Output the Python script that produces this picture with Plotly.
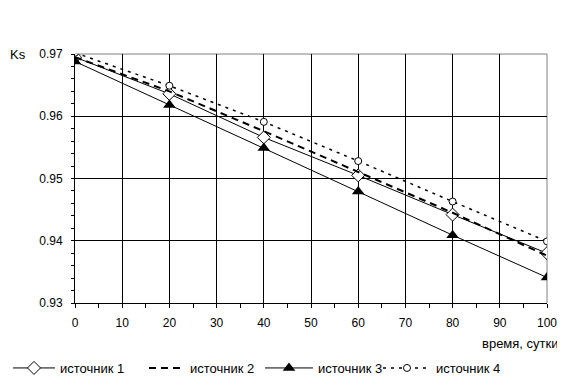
import plotly.graph_objects as go

days = [0, 20, 40, 60, 80, 100]
src1 = [0.9695, 0.9636, 0.9566, 0.9505, 0.9442, 0.9380]
src2 = [0.9695, 0.9640, 0.9576, 0.9510, 0.9445, 0.9376]
src3 = [0.9688, 0.9618, 0.9549, 0.9479, 0.9409, 0.9341]
src4 = [0.9702, 0.9649, 0.9591, 0.9528, 0.9463, 0.9399]
names = ["источник 1", "источник 2", "источник 3", "источник 4"]

FONT = "Liberation Sans, Arial, sans-serif"
W, H = 557, 377  # page adds an 8px body margin

fig = go.Figure()
fig.add_trace(go.Scatter(x=days, y=src1, name=names[0], mode="lines+markers",
                         legend="legend",
                         line=dict(color="black", width=1),
                         marker=dict(symbol="diamond", size=10, color="white",
                                     line=dict(color="black", width=1))))
fig.add_trace(go.Scatter(x=days, y=src2, name=names[1], mode="lines",
                         legend="legend2",
                         line=dict(color="black", width=2, dash="7px,5px")))
fig.add_trace(go.Scatter(x=days, y=src3, name=names[2], mode="lines+markers",
                         legend="legend3",
                         line=dict(color="black", width=1),
                         marker=dict(symbol="triangle-up", size=11, color="black")))
fig.add_trace(go.Scatter(x=days, y=src4, name=names[3], mode="lines+markers",
                         legend="legend4",
                         line=dict(color="black", width=1.5, dash="3px,5px"),
                         marker=dict(symbol="circle", size=7, color="white",
                                     line=dict(color="black", width=1))))


def leg(xpix, iw):
    return dict(orientation="h", xref="container", yref="container",
                x=xpix / W, y=1 - 360 / H, xanchor="left", yanchor="middle",
                itemwidth=iw, font=dict(size=13), bgcolor="rgba(0,0,0,0)")


fig.update_layout(
    width=W, height=H,
    margin=dict(l=67, r=18, t=46, b=82, autoexpand=False),
    paper_bgcolor="white", plot_bgcolor="white",
    font=dict(family=FONT, size=12, color="black"),
    showlegend=True,
    legend=leg(0, 42), legend2=leg(136, 36), legend3=leg(252, 48),
    legend4=leg(370, 48),
    xaxis=dict(range=[0, 100], tick0=0, dtick=10, showgrid=True, gridcolor="black",
               gridwidth=1, showline=True, linecolor="black", linewidth=1,
               ticks="outside", ticklen=4, tickcolor="black", zeroline=False,
               ticklabelstandoff=5, automargin=False,
               minor=dict(dtick=5, ticks="outside", ticklen=4, tickcolor="black",
                          showgrid=False)),
    yaxis=dict(range=[0.93, 0.97], tick0=0.93, dtick=0.01, tickformat=".2f",
               showgrid=True, gridcolor="black", gridwidth=1, showline=True,
               linecolor="black", linewidth=1, ticks="outside", ticklen=3,
               tickcolor="black", zeroline=False, ticklabelstandoff=6,
               automargin=False,
               minor=dict(dtick=0.002, ticks="outside", ticklen=3,
                          tickcolor="black", showgrid=False)),
    shapes=[
        dict(type="line", xref="paper", yref="paper", x0=0, x1=1, y0=1, y1=1,
             line=dict(color="#808080", width=1), layer="between"),
        dict(type="line", xref="paper", yref="paper", x0=1, x1=1, y0=0, y1=1,
             line=dict(color="#808080", width=1), layer="between"),
    ],
    annotations=[
        dict(text="Ks", xref="paper", yref="paper", x=-0.121, y=1, xanchor="center",
             yanchor="middle", showarrow=False, font=dict(size=13)),
        dict(text="время, сутки", xref="paper", yref="paper", x=1.0275, y=-0.161,
             xanchor="right", yanchor="middle", showarrow=False, font=dict(size=13)),
    ],
)

fig.write_html("out.html")
